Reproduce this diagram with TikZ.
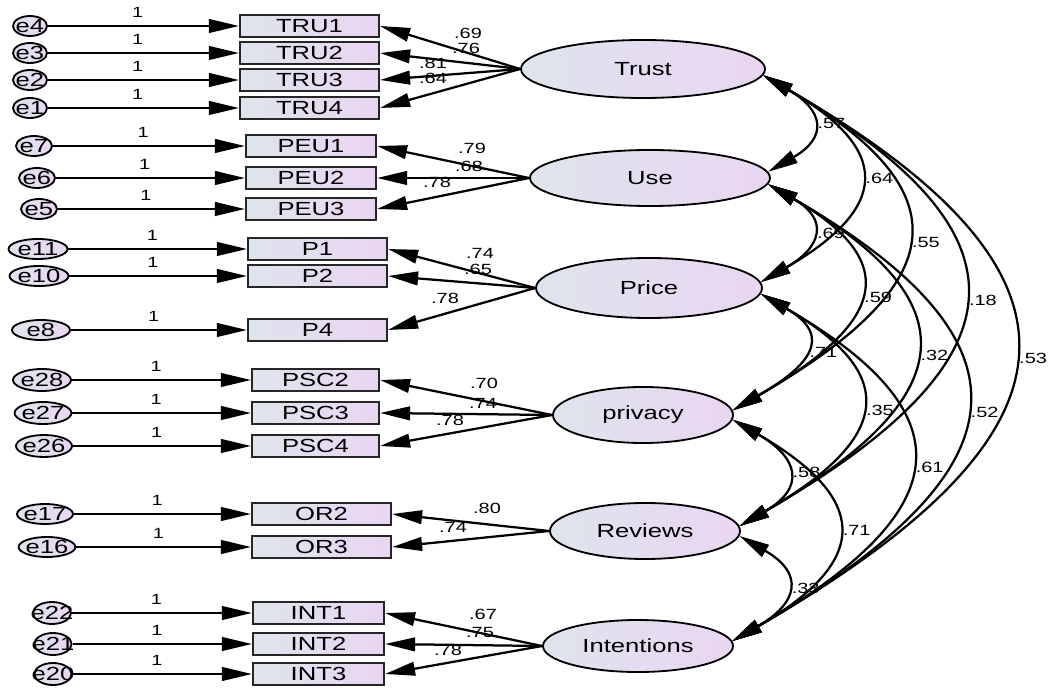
\documentclass[tikz,border=0pt]{standalone}
\usepackage{fontspec}
\setmainfont[FakeStretch=1.35]{Liberation Sans}
\usetikzlibrary{arrows.meta,shapes.geometric}
\definecolor{fillL}{RGB}{222,228,236}
\definecolor{fillR}{RGB}{234,214,242}
\tikzset{tri/.tip={Triangle[length=0.75cm,width=0.34cm]}}

\begin{document}
\begin{tikzpicture}[x=0.025cm, y=-0.025cm,
  obs/.style={rectangle, draw=black!85, line width=1.5pt, left color=fillL, right color=fillR,
    minimum height=0.55cm, inner sep=0pt, font=\fontsize{13.5}{15}\selectfont},
  lat/.style={ellipse, draw, line width=1.3pt, left color=fillL, right color=fillR,
    inner sep=0pt, font=\fontsize{13.5}{15}\selectfont},
  err/.style={ellipse, draw, line width=1.3pt, left color=fillL, right color=fillR,
    inner sep=0pt, minimum height=0.5cm,
    label={[font=\fontsize{13.5}{15}\selectfont, inner sep=0pt]center:#1}},
  lbl/.style={font=\fontsize{10.5}{12}\selectfont, inner sep=1pt},
  reg/.style={line width=1.6pt, -tri},
  cov/.style={line width=1.6pt, tri-tri, out=-30, in=30, looseness=1.84}]
  \useasboundingbox (0,0) rectangle (1052,688);

  % latent variables
  \node[lat, minimum width=6.1cm, minimum height=1.45cm] (Trust) at (643,69) {Trust};
  \node[lat, minimum width=6cm, minimum height=1.4cm] (Use) at (650,178) {Use};
  \node[lat, minimum width=5.65cm, minimum height=1.5cm] (Price) at (649,288) {Price};
  \node[lat, minimum width=4.5cm, minimum height=1.4cm] (privacy) at (643,415) {privacy};
  \node[lat, minimum width=4.75cm, minimum height=1.4cm] (Reviews) at (645,531) {Reviews};
  \node[lat, minimum width=4.75cm, minimum height=1.3cm] (Intentions) at (638,646) {Intentions};

  % observed variables
  \node[obs, minimum width=3.475cm] (TRU1) at (309.5,26) {TRU1};
  \node[obs, minimum width=3.475cm] (TRU2) at (309.5,53) {TRU2};
  \node[obs, minimum width=3.475cm] (TRU3) at (309.5,80) {TRU3};
  \node[obs, minimum width=3.475cm] (TRU4) at (309.5,108) {TRU4};
  \node[obs, minimum width=3.25cm] (PEU1) at (311,146) {PEU1};
  \node[obs, minimum width=3.25cm] (PEU2) at (311,178) {PEU2};
  \node[obs, minimum width=3.25cm] (PEU3) at (311,209) {PEU3};
  \node[obs, minimum width=3.475cm] (P1) at (317.5,249) {P1};
  \node[obs, minimum width=3.475cm] (P2) at (317.5,276) {P2};
  \node[obs, minimum width=3.475cm] (P4) at (317.5,330) {P4};
  \node[obs, minimum width=3.175cm] (PSC2) at (315.5,380) {PSC2};
  \node[obs, minimum width=3.175cm] (PSC3) at (315.5,413) {PSC3};
  \node[obs, minimum width=3.175cm] (PSC4) at (315.5,446) {PSC4};
  \node[obs, minimum width=3.475cm] (OR2) at (321.5,514) {OR2};
  \node[obs, minimum width=3.475cm] (OR3) at (321.5,547) {OR3};
  \node[obs, minimum width=3.275cm] (INT1) at (318.5,613) {INT1};
  \node[obs, minimum width=3.275cm] (INT2) at (318.5,644) {INT2};
  \node[obs, minimum width=3.275cm] (INT3) at (318.5,674) {INT3};

  % error terms
  \node[err=e4, minimum width=0.85cm] (e4) at (30,26) {};
  \node[err=e3, minimum width=0.85cm] (e3) at (30,53) {};
  \node[err=e2, minimum width=0.85cm] (e2) at (30,80) {};
  \node[err=e1, minimum width=0.85cm] (e1) at (30,108) {};
  \node[err=e7, minimum width=0.9cm] (e7) at (34,146) {};
  \node[err=e6, minimum width=0.9cm] (e6) at (37,178) {};
  \node[err=e5, minimum width=0.9cm] (e5) at (39,209) {};
  \node[err=e11, minimum width=1.475cm] (e11) at (38,249) {};
  \node[err=e10, minimum width=1.475cm] (e10) at (39,276) {};
  \node[err=e8, minimum width=1.45cm] (e8) at (41,330) {};
  \node[err=e28, minimum width=1.45cm, minimum height=0.55cm] (e28) at (42,380) {};
  \node[err=e27, minimum width=1.42cm, minimum height=0.55cm] (e27) at (43,413) {};
  \node[err=e26, minimum width=1.4cm, minimum height=0.55cm] (e26) at (44,446) {};
  \node[err=e17, minimum width=1.4cm] (e17) at (45,514) {};
  \node[err=e16, minimum width=1.42cm] (e16) at (47,547) {};
  \node[err=e22, minimum width=0.95cm, minimum height=0.55cm] (e22) at (52,613) {};
  \node[err=e21, minimum width=0.93cm, minimum height=0.55cm] (e21) at (53,644) {};
  \node[err=e20, minimum width=0.93cm, minimum height=0.55cm] (e20) at (53,674) {};

  \path[reg]
  (e4) edge node[lbl, above=4pt, pos=.47] {1} (TRU1)
  (e3) edge node[lbl, above=4pt, pos=.47] {1} (TRU2)
  (e2) edge node[lbl, above=4pt, pos=.47] {1} (TRU3)
  (e1) edge node[lbl, above=4pt, pos=.47] {1} (TRU4)
  (e7) edge node[lbl, above=4pt, pos=.47] {1} (PEU1)
  (e6) edge node[lbl, above=4pt, pos=.47] {1} (PEU2)
  (e5) edge node[lbl, above=4pt, pos=.47] {1} (PEU3)
  (e11) edge node[lbl, above=4pt, pos=.47] {1} (P1)
  (e10) edge node[lbl, above=4pt, pos=.47] {1} (P2)
  (e8) edge node[lbl, above=4pt, pos=.47] {1} (P4)
  (e28) edge node[lbl, above=4pt, pos=.47] {1} (PSC2)
  (e27) edge node[lbl, above=4pt, pos=.47] {1} (PSC3)
  (e26) edge node[lbl, above=4pt, pos=.47] {1} (PSC4)
  (e17) edge node[lbl, above=4pt, pos=.47] {1} (OR2)
  (e16) edge node[lbl, above=4pt, pos=.47] {1} (OR3)
  (e22) edge node[lbl, above=4pt, pos=.47] {1} (INT1)
  (e21) edge node[lbl, above=4pt, pos=.47] {1} (INT2)
  (e20) edge node[lbl, above=4pt, pos=.47] {1} (INT3);

  \path[reg]
  (Trust.west) edge (TRU1.east) edge (TRU2.east) edge (TRU3.east) edge (TRU4.east)
  (Use.west) edge (PEU1.east) edge (PEU2.east) edge (PEU3.east)
  (Price.west) edge (P1.east) edge (P2.east) edge (P4.east)
  (privacy.west) edge (PSC2.east) edge (PSC3.east) edge (PSC4.east)
  (Reviews.west) edge (OR2.east) edge (OR3.east)
  (Intentions.west) edge (INT1.east) edge (INT2.east) edge (INT3.east);

  % loadings
  \foreach \x/\y/\v [count=\i] in {468/33/.69, 466/48/.76, 433/63/.81, 433/78/.64,
    472/148/.79, 469/166/.68, 437/182/.78, 480/253/.74, 478/269/.65, 445/298/.78,
    484/383/.70, 483/403/.74, 450/420/.78, 487/508/.80, 453/527/.74,
    483/614/.67, 480/632/.75, 448/650/.78}
    \node[lbl] (w\i) at (\x,\y) {\v};

  % covariances
  \path[cov]
  (Trust.-3) edge node[lbl, right=3pt] {.57} (Use.3)
  (Trust.-3) edge node[lbl, right=3pt] {.64} (Price.3)
  (Trust.-3) edge node[lbl, right=3pt] {.55} (privacy.3)
  (Trust.-3) edge node[lbl, right=3pt] {.18} (Reviews.3)
  (Trust.-3) edge node[lbl, right=3pt] {.53} (Intentions.3)
  (Use.-3) edge node[lbl, right=3pt] {.69} (Price.3)
  (Use.-3) edge node[lbl, right=3pt] {.59} (privacy.3)
  (Use.-3) edge node[lbl, right=3pt] {.32} (Reviews.3)
  (Use.-3) edge node[lbl, right=3pt] {.52} (Intentions.3)
  (Price.-3) edge node[lbl, right=3pt] {.71} (privacy.3)
  (Price.-3) edge node[lbl, right=3pt] {.35} (Reviews.3)
  (Price.-3) edge node[lbl, right=3pt] {.61} (Intentions.3)
  (privacy.-3) edge node[lbl, right=3pt] {.58} (Reviews.3)
  (privacy.-3) edge node[lbl, right=3pt] {.71} (Intentions.3)
  (Reviews.-3) edge node[lbl, right=3pt] {.33} (Intentions.3);
%  (Trust.-3) edge[bend left] (Use.3);
\end{tikzpicture}
\end{document}
